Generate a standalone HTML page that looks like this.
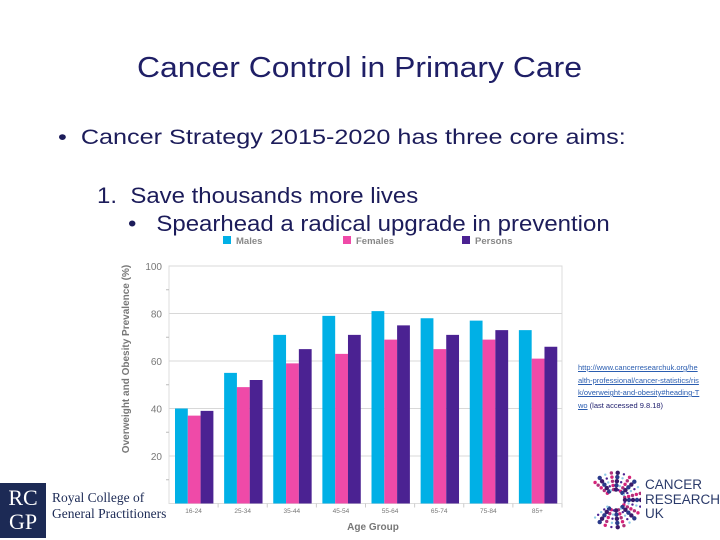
<!DOCTYPE html>
<html><head><meta charset="utf-8"><style>
body{margin:0;width:720px;height:540px;background:#fff;position:relative;overflow:hidden;font-family:"Liberation Sans",sans-serif}
.a{position:absolute;white-space:nowrap;transform-origin:left top}
</style></head><body>
<div class="a" style="left:137px;top:52px;font-size:29px;color:#1f1f66;transform:scaleX(1.1)">Cancer Control in Primary Care</div>
<div class="a" style="left:58px;top:126px;font-size:21px;color:#1c1c5a;transform:scaleX(1.2)">•&nbsp;&nbsp;Cancer Strategy 2015-2020 has three core aims:</div>
<div class="a" style="left:97px;top:183px;font-size:22px;color:#1c1c5a;transform:scaleX(1.09)">1.&nbsp;&nbsp;Save thousands more lives</div>
<div class="a" style="left:128px;top:211px;font-size:22px;color:#1c1c5a;transform:scaleX(1.09)">•&nbsp;&nbsp;&nbsp;Spearhead a radical upgrade in prevention</div>
<svg class="a" style="left:0;top:0" width="720" height="540" id="chart"></svg>
<div class="a" style="left:578px;top:362px;font-size:7.5px;line-height:12.5px;color:#1a1a6a;white-space:normal;word-break:break-all;width:122px"><span style="color:#2a5db0;text-decoration:underline">http://www.cancerresearchuk.org/health-professional/cancer-statistics/risk/overweight-and-obesity#heading-Two</span> (last accessed 9.8.18)</div>
<div class="a" style="left:585px;top:468px;width:130px;height:64px">
<svg class="a" style="left:0;top:0" width="56" height="64" id="clogo"></svg>
<div class="a" style="left:60px;top:10px;font-size:13.5px;line-height:14.5px;color:#2a3a6a">CANCER<br>RESEARCH<br>UK</div></div>
<div class="a" style="left:0;top:483px;width:46px;height:55px;background:#1c2a55;color:#fff;font-family:'Liberation Serif',serif;font-size:22px;line-height:24px;text-align:center;padding-top:3px;box-sizing:border-box">RC<br>GP</div>
<div class="a" style="left:52px;top:490px;font-family:'Liberation Serif',serif;font-size:13.5px;line-height:16px;color:#1c2a55">Royal College of<br>General Practitioners</div>
<script>
const categories=["16-24","25-34","35-44","45-54","55-64","65-74","75-84","85+"];
const males=[40,55,71,79,81,78,77,73];
const females=[37,49,59,63,69,65,69,61];
const persons=[39,52,65,71,75,71,73,66];
const yTicks=[20,40,60,80,100];
const seriesNames=["Males","Females","Persons"];
const svg=document.getElementById('chart');const NS='http://www.w3.org/2000/svg';
const X0=169,X1=562,Y0=503.5,Y1=266;
const y=v=>Y0-(v/100)*(Y0-Y1);
const gw=(X1-X0)/categories.length;
function mk(t,a,txt,p){const e=document.createElementNS(NS,t);for(const k in a)e.setAttribute(k,a[k]);if(txt!=null)e.textContent=txt;(p||svg).appendChild(e);return e;}
const colors=["#00b0e6","#ef4aa8","#4b2292"];
let e;
e=mk('rect',{x:X0,y:Y1,width:X1-X0,height:Y0-Y1,fill:'none',stroke:'#ddd'});


yTicks.forEach(v=>{
 e=mk('line',{x1:X0,x2:X1,y1:y(v),y2:y(v),stroke:'#d8d8d8'});
 
 
 e=mk('text',{x:X0-7,y:y(v)+4,'text-anchor':'end','font-size':10,fill:'#777'},v);
 
 
 e=mk('line',{x1:X0-3,x2:X0,y1:y(v-10),y2:y(v-10),stroke:'#bbb'});
 
 
});
[males,females,persons].forEach((s,si)=>{
 s.forEach((v,i)=>{
  e=mk('rect',{x:X0+i*gw+6+si*12.8,y:y(v),width:12.8,height:Y0-y(v),fill:colors[si]});
  
  
 });
});
categories.forEach((c,i)=>{
 e=mk('text',{x:X0+i*gw+gw/2,y:513,'text-anchor':'middle','font-size':6.5,fill:'#777'},c);
 
 
 e=mk('line',{x1:X0+(i+1)*gw,x2:X0+(i+1)*gw,y1:Y0,y2:Y0+4,stroke:'#ccc'});
 
 
});
e=mk('text',{x:373,y:530,'text-anchor':'middle','font-size':10,'font-weight':'bold',fill:'#777'},'Age Group');


e=mk('text',{x:0,y:0,transform:'translate(129,359) rotate(-90)','text-anchor':'middle','font-size':10,'font-weight':'bold',fill:'#777'},'Overweight and Obesity Prevalence (%)');


const lx=[223,343,462];
seriesNames.forEach((n,i)=>{
 e=mk('rect',{x:lx[i],y:236,width:8,height:8,fill:colors[i]});
 
 
 e=mk('text',{x:lx[i]+13,y:244,'font-size':9.5,'font-weight':'bold',fill:'#888'},n);
 
 
});
// CRUK dotted C logo (decorative)
const cl=document.getElementById('clogo');
const dc=["#4b2292","#d6247a","#2a3a8a","#8ecae6","#b0307a","#3a1a6a"];
let k=0;
for(let r=10;r<=26;r+=4){for(let a=40;a<=320;a+=14){k++;const rad=a*Math.PI/180;
 mk('circle',{cx:30-r*Math.cos(rad),cy:32-r*Math.sin(rad)*1.05,r:1.2+(k%3)*0.5,fill:dc[k%dc.length]},null,cl);}}
</script>
</body></html>
